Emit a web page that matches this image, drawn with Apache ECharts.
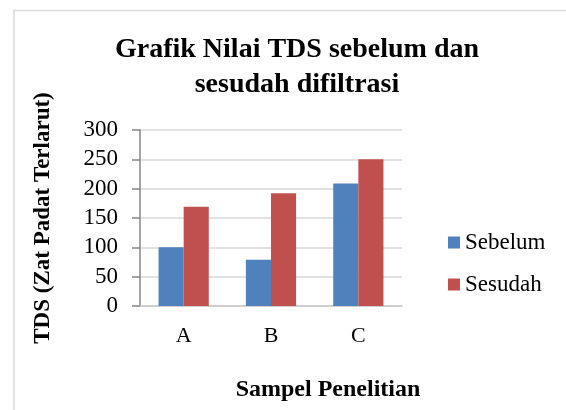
<!DOCTYPE html>
<html>
<head>
<meta charset="utf-8">
<script src="https://cdn.jsdelivr.net/npm/echarts@6/dist/echarts.min.js"></script>
<style>
  html, body { margin: 0; padding: 0; background: #fff; }
  #chart { width: 566px; height: 410px; }
</style>
</head>
<body>
<div id="chart"></div>
<script>
var categories = ["A", "B", "C"];
var sebelum = [100, 79, 209];
var sesudah = [169, 192, 250];
var yTicks = [0, 50, 100, 150, 200, 250, 300];

var font = "'Liberation Serif', 'Times New Roman', serif";
var chart = echarts.init(document.getElementById("chart"));

var option = {
  backgroundColor: "#fff",
  animation: false,
  textStyle: { fontFamily: font },
  graphic: [
    {
      type: "rect",
      shape: { x: 14, y: 10.5, width: 600, height: 450 },
      style: { fill: "none", stroke: "#d9d9d9", lineWidth: 1.5 },
      silent: true
    }
  ],
  title: {
    text: "Grafik Nilai TDS sebelum dan\nsesudah difiltrasi",
    left: 292,
    top: 27,
    textAlign: "center",
    textStyle: {
      fontFamily: font,
      fontSize: 28,
      fontWeight: "bold",
      color: "#000",
      lineHeight: 35
    }
  },
  legend: {
    orient: "vertical",
    left: 443,
    top: 226,
    itemWidth: 12,
    itemHeight: 12,
    itemGap: 19,
    icon: "rect",
    textStyle: { fontFamily: font, fontSize: 23, color: "#000" },
    data: ["Sebelum", "Sesudah"]
  },
  grid: {
    left: 140,
    top: 130,
    width: 262,
    height: 176,
    containLabel: false
  },
  xAxis: {
    type: "category",
    data: categories,
    name: "Sampel Penelitian",
    nameLocation: "middle",
    nameGap: 72,
    nameTextStyle: { fontFamily: font, fontSize: 24, fontWeight: "bold", color: "#000", padding: [0, 0, 0, 114] },
    axisLine: { lineStyle: { color: "#c8c8c8", width: 1.5 } },
    axisTick: { show: false },
    axisLabel: { fontFamily: font, fontSize: 22, color: "#000", margin: 19 }
  },
  yAxis: {
    type: "value",
    min: 0,
    max: 300,
    interval: 50,
    name: "TDS (Zat Padat Terlarut)",
    nameLocation: "middle",
    nameGap: 85,
    nameRotate: 90,
    nameTextStyle: { fontFamily: font, fontSize: 23, fontWeight: "bold", color: "#000" },
    axisLine: { show: true, lineStyle: { color: "#868686", width: 1.5 } },
    axisTick: { show: true, length: 8, lineStyle: { color: "#868686", width: 1.5 } },
    splitLine: { lineStyle: { color: "#d9d9d9", width: 1.5 } },
    axisLabel: {
      fontFamily: font,
      fontSize: 23,
      color: "#000",
      margin: 22,
      formatter: function (v) { return yTicks.indexOf(v) >= 0 ? String(v) : ""; }
    }
  },
  series: [
    {
      name: "Sebelum",
      type: "bar",
      data: sebelum,
      barGap: "0%",
      barCategoryGap: "42.5%",
      itemStyle: { color: "#4f81bd" }
    },
    {
      name: "Sesudah",
      type: "bar",
      data: sesudah,
      barGap: "0%",
      barCategoryGap: "42.5%",
      itemStyle: { color: "#c0504d" }
    }
  ]
};

chart.setOption(option);
</script>
</body>
</html>
